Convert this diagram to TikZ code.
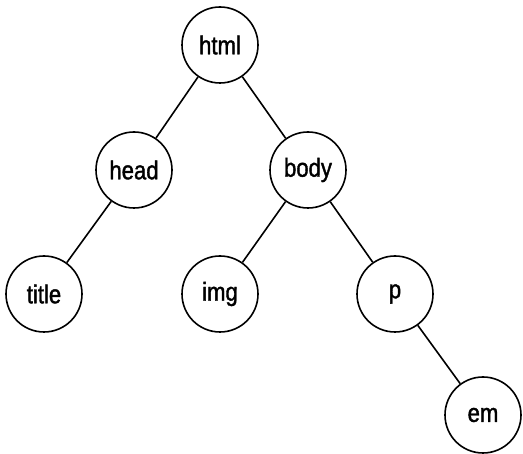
\documentclass[tikz,border=0pt]{standalone}
\usepackage{fontspec}
\setmainfont{Liberation Sans}[FakeStretch=0.85,FakeBold=1.4]
\usepackage{tikz}
\usetikzlibrary{positioning}
\tikzstyle{elem} = [circle, draw=black, line width=1.6pt, minimum size=76pt,
inner sep=0pt, font=\fontsize{26}{29}\selectfont]

\begin{document}
\begin{tikzpicture}[x=1pt,y=-1pt]
   \useasboundingbox (0,0) rectangle (523,454);
   \node[elem] (html) at (220,45) {html};
   \node[elem] (head) at (134,170) {head};
   \node[elem] (body) at (308,170) {body};
   \node[elem] (title) at (44,294) {title};
   \node[elem] (img) at (220,294) {img};
   \node[elem] (p) at (395,294) {p};
   \node[elem] (em) at (483,415) {em};
   \draw[line width=1.6pt] (html) -- (head);
   \draw[line width=1.6pt] (html) -- (body);
   \draw[line width=1.6pt] (head) -- (title);
   \draw[line width=1.6pt] (body) -- (img);
   \draw[line width=1.6pt] (body) -- (p);
   \draw[line width=1.6pt] (p) -- (em);
  \end{tikzpicture}
\end{document}
